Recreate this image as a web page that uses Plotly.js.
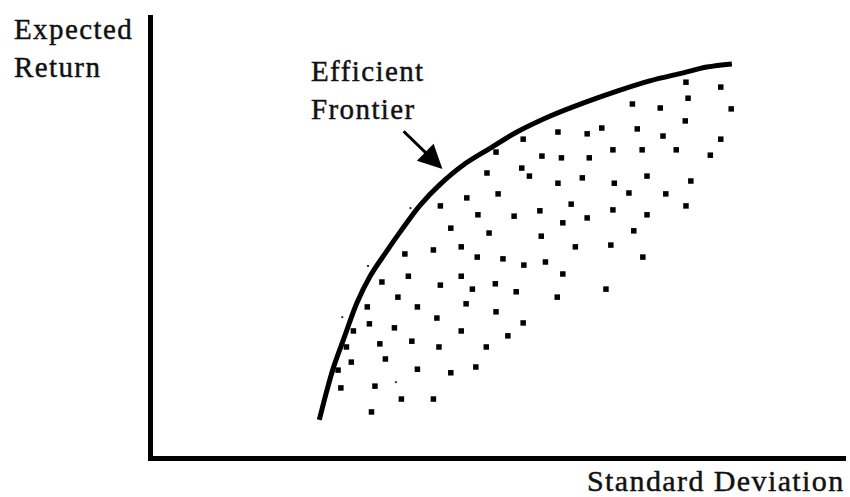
<!DOCTYPE html>
<html>
<head>
<meta charset="utf-8">
<script src="https://cdn.plot.ly/plotly-3.0.1.min.js"></script>
<style>
html,body{margin:0;padding:0;background:#fff;}
#chart{width:850px;height:497px;}
.annotation-text{letter-spacing:1.4px;stroke:#111;stroke-width:0.45px;}
</style>
</head>
<body>
<div id="chart"></div>
<script>
// Efficient frontier (standard deviation, expected return)
const frontierSD  = [24.3,25.3,26.4,27.9,29.7,31.6,33.8,35.9,38.8,41.7,45.0,48.9,52.7,57.5,62.2,67.1,71.8,76.6,80.0,83.6];
const frontierRet = [ 9.0,15.1,21.1,27.6,35.3,41.3,46.5,51.2,57.3,62.0,66.3,70.1,73.7,77.3,80.2,82.9,85.2,87.0,88.3,89.0];

// Feasible portfolios
const portSD  = [36.6,40.7,47.0,50.7,53.7,56.8,37.1,44.7,33.3,41.7,46.3,49.6,52.6,35.6,31.2,38.4,45.4,49.7,41.2,31.5,
                 35.1,29.2,44.7,53.6,51.4,33.0,37.6,41.5,48.3,28.2,28.9,33.8,27.0,38.4,43.2,46.8,27.4,32.3,36.1,40.7,
                 31.8,58.6,62.8,64.9,70.0,53.6,49.7,56.3,59.1,63.1,66.5,70.7,48.4,53.4,54.5,58.6,62.1,66.7,71.4,68.8,
                 50.0,45.5,41.7,60.5,56.0,66.5,71.4,47.1,52.3,59.3,62.8,69.5,43.2,48.7,56.2,44.7,61.1,66.2,70.8,59.3,
                 58.5,65.5,77.0,82.0,77.3,83.5,69.3,73.3,76.9,73.7,82.0,75.6,80.5,77.7,74.1,77.0];
const portRet = [46.3,47.2,45.6,45.2,43.8,44.5,41.3,41.3,40.0,39.3,38.4,39.6,37.8,36.6,34.4,34.4,35.1,33.3,31.9,30.6,
                 29.7,29.0,29.0,30.8,27.9,26.1,26.7,25.4,25.4,25.4,22.0,22.7,20.2,20.4,19.6,20.9,16.2,16.6,13.7,13.7,
                 10.8,73.7,73.3,74.6,74.4,72.1,69.2,68.3,67.9,67.9,69.7,69.7,64.5,65.6,63.8,62.2,63.4,62.2,63.8,60.0,
                 59.8,58.9,57.1,57.5,56.0,56.2,55.1,55.1,54.8,53.3,54.4,51.5,52.1,51.0,50.3,47.9,47.9,48.3,45.6,41.8,
                 36.6,38.4,84.9,83.8,81.3,78.9,80.0,79.1,76.2,72.8,72.1,69.7,68.5,62.7,59.8,57.1];

// faint specks near the frontier
const speckSD  = [31.3,27.6,35.3,37.4];
const speckRet = [43.6,32.1,17.5,56.6];

const fontFamily = '"Liberation Serif", "Times New Roman", serif';
const labelFont = {family:fontFamily, size:29, color:'#111'};

const traces = [
  {x:portSD, y:portRet, mode:'markers', type:'scatter', hoverinfo:'skip',
   marker:{symbol:'square', size:5.5, color:'#000'}},
  {x:speckSD, y:speckRet, mode:'markers', type:'scatter', hoverinfo:'skip',
   marker:{symbol:'square', size:2, color:'#333'}},
  {x:frontierSD, y:frontierRet, mode:'lines', type:'scatter', hoverinfo:'skip',
   line:{color:'#000', width:5, shape:'spline', smoothing:1}}
];

const layout = {
  width:850, height:497,
  margin:{l:153, r:4, t:15, b:41, pad:0},
  paper_bgcolor:'#fff', plot_bgcolor:'#fff',
  showlegend:false,
  xaxis:{range:[0.4,100], showgrid:false, zeroline:false, showticklabels:false, ticks:'',
         showline:true, linecolor:'#000', linewidth:5, fixedrange:true},
  yaxis:{range:[0.9,100], showgrid:false, zeroline:false, showticklabels:false, ticks:'',
         showline:true, linecolor:'#000', linewidth:5, fixedrange:true},
  annotations:[
    {text:'Expected<br>Return', xref:'paper', yref:'paper', x:-0.2035, y:0.925,
     xanchor:'left', yanchor:'middle', align:'left', showarrow:false, font:labelFont},
    {text:'Efficient<br>Frontier', xref:'paper', yref:'paper', x:0.2245, y:0.83,
     xanchor:'left', yanchor:'middle', align:'left', showarrow:false, font:labelFont},
    {text:'Standard Deviation', xref:'paper', yref:'paper', x:1.0, y:-0.056,
     xanchor:'right', yanchor:'middle', align:'right', showarrow:false, borderpad:0,
     font:{family:fontFamily, size:30, color:'#111'}},
    {text:'', xref:'x', yref:'y', x:42.0, y:65.4, axref:'x', ayref:'y', ax:36.2, ay:74.2,
     showarrow:true, arrowhead:2, arrowsize:1.6, arrowwidth:3, arrowcolor:'#000', standoff:0}
  ]
};

Plotly.newPlot('chart', traces, layout, {staticPlot:true, displayModeBar:false});
</script>
</body>
</html>
